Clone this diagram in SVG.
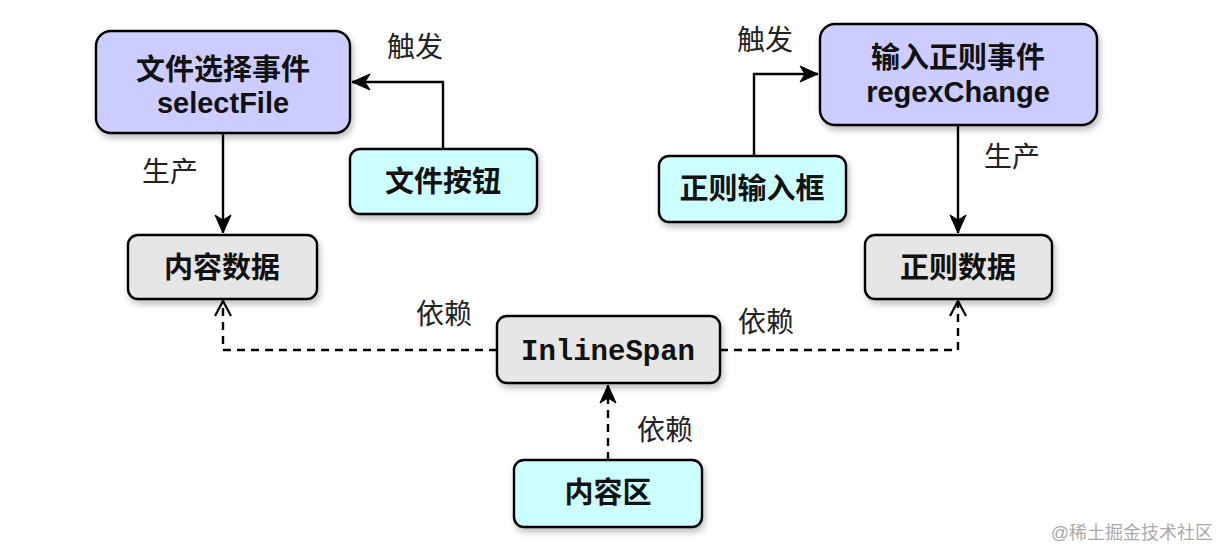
<svg xmlns="http://www.w3.org/2000/svg" width="1220" height="548" viewBox="0 0 1220 548">
<defs>
<filter id="sh" x="-20%" y="-20%" width="140%" height="150%">
<feDropShadow dx="2" dy="4" stdDeviation="3" flood-color="#000" flood-opacity="0.25"/>
</filter>
<marker id="classic" viewBox="0 0 22 22" refX="20" refY="11" markerWidth="22" markerHeight="22" markerUnits="userSpaceOnUse" orient="auto">
<path d="M2,3 L20,11 L2,19 L7,11 Z" fill="#000" stroke="#000" stroke-width="1"/>
</marker>
<marker id="open" viewBox="0 0 22 22" refX="20" refY="11" markerWidth="22" markerHeight="22" markerUnits="userSpaceOnUse" orient="auto">
<path d="M5,3 L20,11 L5,19" fill="none" stroke="#000" stroke-width="2.2"/>
</marker>
</defs>
<style>
.box{stroke:#000;stroke-width:2.4;filter:url(#sh)}
.ev{fill:#ccccff}
.src{fill:#ccffff}
.dat{fill:#e6e6e6}
.t{font-family:"Liberation Sans","Noto Sans CJK SC",sans-serif;font-weight:bold;font-size:29px;text-anchor:middle;fill:#111}
.m{font-family:"Liberation Mono",monospace;font-weight:bold;font-size:29px;text-anchor:middle;fill:#111}
.lbl{font-family:"Liberation Sans","Noto Sans CJK SC",sans-serif;font-size:28px;fill:#222}
.e{fill:none;stroke:#000;stroke-width:2.4}
.d{stroke-dasharray:8 6}
.wm{font-family:"Liberation Sans","Noto Sans CJK SC",sans-serif;font-size:18px;fill:#aaa}
</style>
<g id="connectors">
<path class="e" d="M443,149 V82 H352" marker-end="url(#classic)"/>
<path class="e" d="M223,133 V233" marker-end="url(#classic)"/>
<path class="e" d="M754,156 V74 H818" marker-end="url(#classic)"/>
<path class="e" d="M958,125 V233" marker-end="url(#classic)"/>
<path class="e d" d="M497,350 H223 V301" marker-end="url(#open)"/>
<path class="e d" d="M720,350 H958 V301" marker-end="url(#open)"/>
<path class="e d" d="M608,460 V385" marker-end="url(#classic)"/>
<text class="lbl" x="415" y="57" text-anchor="middle">触发</text>
<text class="lbl" x="170" y="182" text-anchor="middle">生产</text>
<text class="lbl" x="765" y="50" text-anchor="middle">触发</text>
<text class="lbl" x="1012" y="167" text-anchor="middle">生产</text>
<text class="lbl" x="444" y="324" text-anchor="middle">依赖</text>
<text class="lbl" x="766" y="332" text-anchor="middle">依赖</text>
<text class="lbl" x="665" y="440" text-anchor="middle">依赖</text>
</g>
<g id="n-selectFile">
<rect class="box ev" x="96" y="31" width="254" height="102" rx="15"/>
<text class="t" x="223" y="80">文件选择事件</text>
<text class="t" x="223" y="113">selectFile</text>
</g>
<g id="n-fileBtn">
<rect class="box src" x="350" y="149" width="187" height="65" rx="10"/>
<text class="t" x="443" y="192">文件按钮</text>
</g>
<g id="n-contentData">
<rect class="box dat" x="128" y="235" width="189" height="64" rx="10"/>
<text class="t" x="222" y="278">内容数据</text>
</g>
<g id="n-regexChange">
<rect class="box ev" x="820" y="24" width="277" height="101" rx="15"/>
<text class="t" x="958" y="68">输入正则事件</text>
<text class="t" x="958" y="102">regexChange</text>
</g>
<g id="n-regexInput">
<rect class="box src" x="659" y="156" width="187" height="66" rx="10"/>
<text class="t" x="752" y="199">正则输入框</text>
</g>
<g id="n-regexData">
<rect class="box dat" x="865" y="235" width="187" height="64" rx="10"/>
<text class="t" x="958" y="278">正则数据</text>
</g>
<g id="n-inlineSpan">
<rect class="box dat" x="497" y="316" width="223" height="67" rx="10"/>
<text class="m" x="608" y="360">InlineSpan</text>
</g>
<g id="n-contentArea">
<rect class="box src" x="514" y="460" width="188" height="67" rx="10"/>
<text class="t" x="608" y="503">内容区</text>
</g>
<text class="wm" x="1213" y="539" text-anchor="end">@稀土掘金技术社区</text>
</svg>
